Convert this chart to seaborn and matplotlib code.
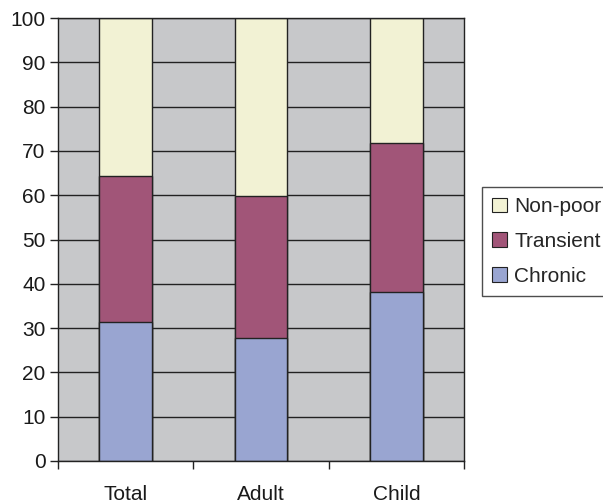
import matplotlib
matplotlib.use("Agg")
import matplotlib.pyplot as plt
import numpy as np
import pandas as pd
import seaborn as sns
from matplotlib.patches import Patch

groups = ["Total", "Adult", "Child"]
chronic = [31.4, 27.7, 38.1]
transient = [32.9, 32.1, 33.7]
non_poor = [35.7, 40.2, 28.2]

colors = {"Non-poor": "#F2F2D4", "Transient": "#A15578", "Chronic": "#99A5D1"}

sns.set_theme(style="white")
plt.rcParams["font.family"] = ["Liberation Sans", "DejaVu Sans"]

df = pd.DataFrame({"group": groups, "Chronic": chronic,
                   "Transient": transient, "Non-poor": non_poor})
# cumulative tops, drawn from the tallest down so each layer sits on the next
df["top_chronic"] = df["Chronic"]
df["top_transient"] = df["Chronic"] + df["Transient"]
df["top_nonpoor"] = df["top_transient"] + df["Non-poor"]

fig = plt.figure(figsize=(6.03, 5.03), dpi=100)
ax = fig.add_axes([58 / 603, 1 - 461 / 503, 406 / 603, 443 / 503])
ax.set_facecolor("#C7C8CA")

ax.set_axisbelow(True)
ax.yaxis.grid(True, color="#222222", linewidth=1.0)

for col, name in [("top_nonpoor", "Non-poor"), ("top_transient", "Transient"),
                  ("top_chronic", "Chronic")]:
    sns.barplot(data=df, x="group", y=col, color=colors[name], saturation=1,
                width=0.39, edgecolor="#222222", linewidth=1.0, ax=ax)

ax.set_ylim(0, 100)
ax.set_xlim(-0.5, 2.5)
ax.set_yticks(np.arange(0, 101, 10))
ax.set_xlabel("")
ax.set_ylabel("")

fs = 15
ax.set_xticks(range(3))
ax.set_xticklabels(groups)
ax.set_xticks([-0.5, 0.5, 1.5, 2.5], minor=True)
ax.tick_params(axis="x", which="major", length=0, pad=17, labelsize=fs, colors="#1a1a1a")
ax.tick_params(axis="x", which="minor", length=6, width=1, color="#222222", direction="out", bottom=True)
ax.tick_params(axis="y", length=6, width=1, color="#222222", direction="out", left=True,
               labelsize=fs, pad=3, colors="#1a1a1a")

for s in ax.spines.values():
    s.set_color("#222222")
    s.set_linewidth(1.0)

handles = [Patch(facecolor=colors[n], edgecolor="#222222", linewidth=0.8, label=n)
           for n in ["Non-poor", "Transient", "Chronic"]]
leg = fig.legend(handles=handles, loc="upper left", bbox_to_anchor=(482 / 603, 1 - 187 / 503),
                 frameon=True, fancybox=False, fontsize=fs, handlelength=0.7, handleheight=0.7,
                 handletextpad=0.35, labelspacing=0.75, borderpad=0.5, borderaxespad=0)
leg.get_frame().set_edgecolor("#222222")
leg.get_frame().set_linewidth(1.0)

fig.savefig("out.png", dpi=100, facecolor="white")
